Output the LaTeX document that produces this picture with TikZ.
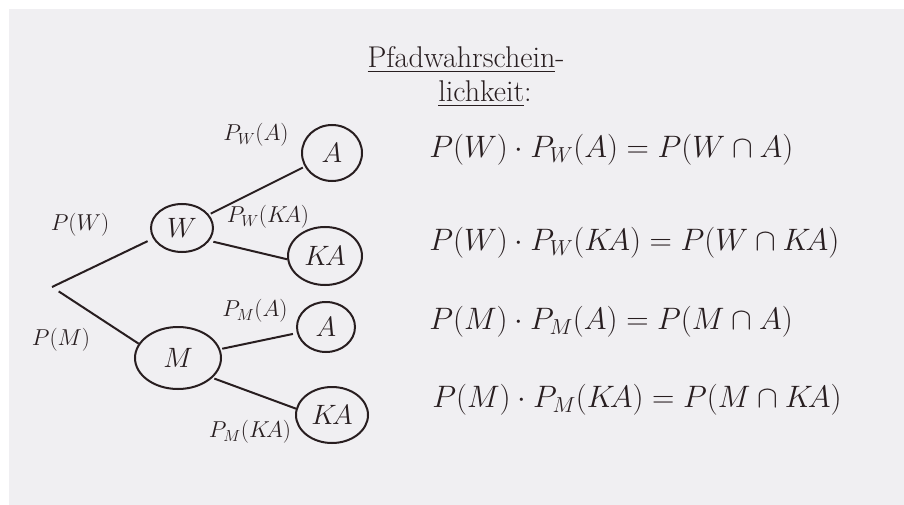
\RequirePackage{fix-cm}
\documentclass[tikz,border=0pt]{standalone}
\usepackage{tikz}
\usetikzlibrary{shapes.geometric, positioning}
\usepackage{amsmath}
\definecolor{paperwhite}{RGB}{240, 239, 242}
\definecolor{inkdark}{RGB}{40, 30, 32}

\begin{document}
\begin{tikzpicture}[x=1pt, y=-1pt, line width=2pt, color=inkdark,
    event/.style={ellipse, draw, inner sep=0pt, minimum width=62pt, minimum height=48pt, font=\fontsize{28}{30}\selectfont},
    prob/.style={font=\fontsize{23}{26}\selectfont},
    formula/.style={anchor=west, font=\fontsize{31}{34}\selectfont},
    heading/.style={font=\fontsize{30}{34}\selectfont}]
                    \fill[white] (0,0) rectangle (904,505);
                    \fill[paperwhite] (9,9) rectangle (904,505);
                    \node[heading] (title1) at (466,60) {\underline{Pfadwahrschein}-};
                    \node[heading] (title2) at (485,94) {\underline{lichkeit}:};
                    \coordinate (root) at (52,287);
                    \node[event] (W) at (182,228) {$W$};
                    \node[event, minimum width=86pt, minimum height=62pt] (M) at (178,358) {$M$};
                    \node[event, minimum width=60pt, minimum height=56pt] (A1) at (332,153) {$A$};
                    \node[event, minimum width=74pt, minimum height=58pt] (KA1) at (325,256) {$K\!A$};
                    \node[event, minimum width=58pt, minimum height=50pt] (A2) at (326,327) {$A$};
                    \node[event, minimum width=72pt, minimum height=56pt] (KA2) at (332,415) {$K\!A$};
                    \draw[shorten >=6pt] (root) -- (W.200);
                    \draw[shorten <=8pt] (root) -- (M.160);
                    \draw[shorten <=2pt, shorten >=2pt] (W) -- (A1);
                    \draw[shorten <=4pt] (W.-25) -- (KA1.185);
                    \draw[shorten <=2pt, shorten >=4pt] (M) -- (A2);
                    \draw[shorten <=2pt] (M.-30) -- (KA2.170);
                    \node[prob] (pW) at (80,225) {$P(W)$};
                    \node[prob] (pM) at (61,340) {$P(M)$};
                    \node[prob] (pWA) at (256,135) {$P_W(A)$};
                    \node[prob] (pWKA) at (268,217) {$P_W(K\!A)$};
                    \node[prob] (pMA) at (255,311) {$P_M(A)$};
                    \node[prob] (pMKA) at (250,432) {$P_M(K\!A)$};
                    \node[formula] (eq1) at (425,150) {$P(W)\cdot P_W(A) = P(W\cap A)$};
                    \node[formula] (eq2) at (425,243) {$P(W)\cdot P_W(K\!A) = P(W\cap K\!A)$};
                    \node[formula] (eq3) at (425,322) {$P(M)\cdot P_M(A) = P(M\cap A)$};
                    \node[formula] (eq4) at (428,400) {$P(M)\cdot P_M(K\!A) = P(M\cap K\!A)$};
                \end{tikzpicture}
\end{document}
